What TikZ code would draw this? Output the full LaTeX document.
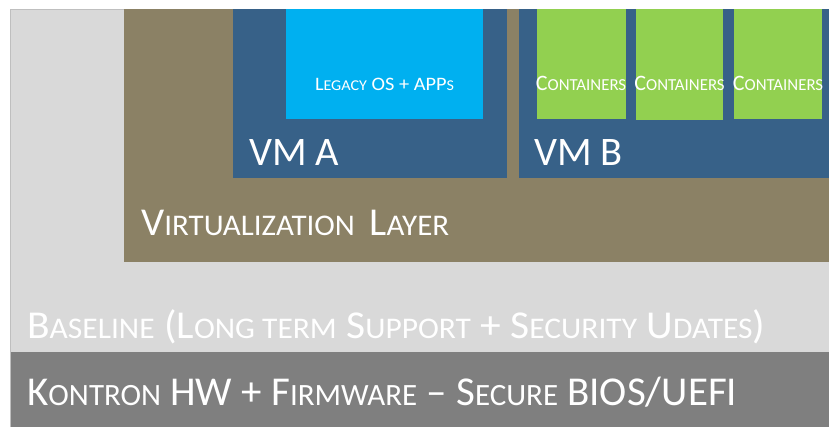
\documentclass[tikz,border=0pt]{standalone}
\usepackage{fontspec}
\setmainfont{Carlito}
\definecolor{lgray}{HTML}{D9D9D9}
\definecolor{lborder}{HTML}{BFBFBF}
\definecolor{dgray}{HTML}{7F7F7F}
\definecolor{olive}{HTML}{8B8165}
\definecolor{vmblue}{HTML}{376188}
\definecolor{legacy}{HTML}{00B0F0}
\definecolor{cgreen}{HTML}{92D050}
\newcommand\scsize{10}
\newcommand\sm[1]{{\fontsize{\scsize}{\scsize}\selectfont #1}}
\newsavebox\fitbox
\newlength\fitlen
\newcommand\fitw[2]{\sbox\fitbox{#2}\setlength\fitlen{\wd\fitbox}%
  \pgfmathsetmacro\fitf{#1/\the\fitlen}\scalebox{\fitf}[1]{\usebox\fitbox}}
\tikzset{
  lbl/.style={text=white, inner sep=0pt, anchor=base west},
  clbl/.style={text=white, inner sep=0pt, anchor=base},
  container/.style={fill=cgreen},
}
\begin{document}
\begin{tikzpicture}[x=1pt,y=-1pt]
\useasboundingbox (0,0) rectangle (829,427);
\fill[white] (0,0) rectangle (829,427);
% baseline block
\filldraw[fill=lgray, draw=lborder, line width=0.8pt] (10,9) rectangle (829.5,352);
% hardware strip
\fill[dgray] (10,352) rectangle (829,427);
\draw[lborder, line width=0.8pt] (10,352) -- (10,427);
% virtualization layer
\fill[olive] (124,9) rectangle (829,262);
% VMs
\fill[vmblue] (233,9) rectangle (507,178);
\fill[vmblue] (519,9) rectangle (829,178);
% legacy box
\fill[legacy] (286,9) rectangle (483,119);
% containers
\fill[container] (537,9) rectangle (626,119);
\fill[container] (636,9) rectangle (723,120);
\fill[container] (734,9) rectangle (822,119);

% texts
\node[clbl, font=\fontsize{19}{19}\selectfont] (legtxt) at (384.5,91)
  {\renewcommand\scsize{15}\fitw{139}{L\sm{EGACY} OS + APP\sm{S}}};
\node[clbl, font=\fontsize{22}{22}\selectfont] (c1txt) at (581,91)
  {\renewcommand\scsize{16.8}C\sm{ONTAINERS}};
\node[clbl, font=\fontsize{22}{22}\selectfont] (c2txt) at (679.5,91)
  {\renewcommand\scsize{16.8}C\sm{ONTAINERS}};
\node[clbl, font=\fontsize{22}{22}\selectfont] (c3txt) at (778,91)
  {\renewcommand\scsize{16.8}C\sm{ONTAINERS}};
\node[lbl, font=\fontsize{40.5}{41}\selectfont] (vmatxt) at (249,165.5) {VM A};
\node[lbl, font=\fontsize{40.5}{41}\selectfont] (vmbtxt) at (534,165.5) {VM B};
\node[lbl, font=\fontsize{39.5}{40}\selectfont] (virttxt) at (141,236)
  {\renewcommand\scsize{30}\fitw{308}{V\sm{IRTUALIZATION}\hspace{5pt} L\sm{AYER}}};
\node[lbl, font=\fontsize{39.5}{40}\selectfont] (basetxt) at (27,338)
  {\renewcommand\scsize{30}\fitw{738}{B\sm{ASELINE} (L\sm{ONG TERM} S\sm{UPPORT} + S\sm{ECURITY} U\sm{DATES})}};
\node[lbl, font=\fontsize{41}{41}\selectfont] (hwtxt) at (27,405)
  {\renewcommand\scsize{31}\fitw{710}{K\sm{ONTRON} HW + F\sm{IRMWARE} -- S\sm{ECURE} BIOS/UEFI}};
\end{tikzpicture}
\end{document}
